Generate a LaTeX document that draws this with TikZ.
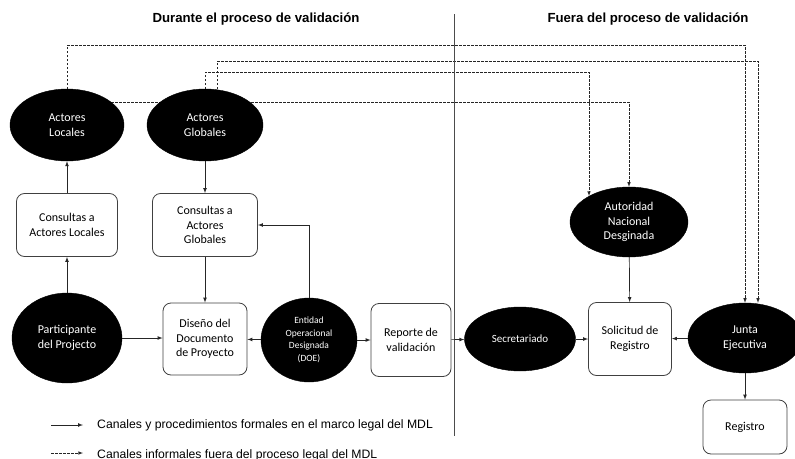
\documentclass[tikz,border=0pt]{standalone}
\usepackage{fontspec}
\setmainfont{Carlito}
\newfontfamily\arialfont{Liberation Sans}
\usetikzlibrary{arrows,shapes}
\usetikzlibrary{positioning}
\usetikzlibrary{backgrounds}

\begin{document}
\begin{tikzpicture}[x=1pt,y=-1pt,
  actor/.style={ellipse,fill=black,draw=black,text=white,inner sep=0pt,align=center,font=\fontsize{12}{14.5}\selectfont},
  caja/.style={rectangle,draw=black!75,line width=0.8pt,rounded corners=8pt,fill=white,inner sep=0pt,align=center,font=\fontsize{12}{14.5}\selectfont},
  formal/.style={-latex,black!85,line width=0.7pt},
  informal/.style={-latex,black!85,line width=0.6pt,dash pattern=on 2.5pt off 1.5pt},
  titulo/.style={font=\arialfont\bfseries\fontsize{13.2}{15}\selectfont},
  leyenda/.style={anchor=west,inner sep=0pt,font=\arialfont\fontsize{12.2}{15}\selectfont}]
\useasboundingbox (0,0) rectangle (795,458);
% titulos
\node[titulo] (durante) at (256,19) {Durante el proceso de validación};
\node[titulo] (fuera) at (648,19) {Fuera del proceso de validación};
\draw[black!70, line width=0.8pt] (454,14) -- (454,436);
% durante
\node[actor,minimum width=114,minimum height=72] (locales) at (67,125) {Actores\\Locales};
\node[actor,minimum width=116,minimum height=72] (globales) at (205,125) {Actores\\Globales};
\node[caja,minimum width=101,minimum height=63] (conslocal) at (67,225) {Consultas a\\Actores Locales};
\node[caja,minimum width=105,minimum height=63] (consglobal) at (205,225) {Consultas a\\Actores\\Globales};
\node[actor,minimum width=110,minimum height=90] (participante) at (67,338) {Participante\\del Projecto};
\node[caja,minimum width=84,minimum height=72] (diseno) at (205,339) {Diseño del\\Documento\\de Proyecto};
\node[actor,minimum width=96,minimum height=84,font=\fontsize{9.5}{12.5}\selectfont] (doe) at (309,340) {Entidad\\Operacional\\Designada\\(DOE)};
\node[caja,minimum width=80,minimum height=73] (reporte) at (411,340) {Reporte de\\validación};
% fuera
\node[actor,minimum width=111,minimum height=64,font=\fontsize{11}{14}\selectfont] (secretariado) at (520,339) {Secretariado};
\node[caja,minimum width=83,minimum height=73] (solicitud) at (630,339) {Solicitud de\\Registro};
\node[actor,minimum width=118,minimum height=70] (autoridad) at (629,222) {Autoridad\\Nacional\\Desginada};
\node[actor,minimum width=114,minimum height=70] (junta) at (745,338) {Junta\\Ejecutiva};
\node[caja,minimum width=84,minimum height=54] (registro) at (745,427) {Registro};
% canales formales
\draw[formal] (participante) -- (conslocal);
\draw[formal] (conslocal) -- (locales);
\draw[formal] (globales) -- (consglobal);
\draw[formal] (consglobal) -- (diseno);
\draw[formal] (participante.east) -- (diseno.west |- participante.east);
\draw[formal] (doe) -- (diseno);
\draw[formal] (doe.north) |- (consglobal.east);
\draw[formal] (doe) -- (reporte);
\draw[formal] (reporte) -- (secretariado);
\draw[formal] (secretariado) -- (solicitud);
\draw[formal] (autoridad) -- (solicitud);
\draw[formal] (junta) -- (solicitud);
\draw[formal] (junta) -- (registro);
% canales informales
\coordinate (esq1) at (745,45);
\coordinate (esq2) at (758,61);
\coordinate (esq3) at (589,72);
\coordinate (fin3) at ([xshift=-40pt,yshift=26pt]autoridad.center);
\begin{scope}[on background layer]
\draw[informal] (locales.center) |- (esq1) -- (junta.north);
\draw[informal] (globales.center) ++(12,0) |- (esq2) -- (esq2 |- junta.north);
\draw[informal] (globales.center) |- (esq3) -- (fin3);
\draw[informal] (locales.center) ++(0,-23) -| (autoridad.north);
\end{scope}
% leyenda
\coordinate (lf1) at (51,425);
\coordinate (lf2) at (83,425);
\coordinate (li1) at (51,453);
\coordinate (li2) at (83,453);
\draw[formal] (lf1) -- (lf2);
\draw[informal] (li1) -- (li2);
\node[leyenda] (leyformal) at (97,425.5) {Canales y procedimientos formales en el marco legal del MDL};
\node[leyenda] (leyinformal) at (97,455) {Canales informales fuera del proceso legal del MDL};
\end{tikzpicture}
\end{document}
